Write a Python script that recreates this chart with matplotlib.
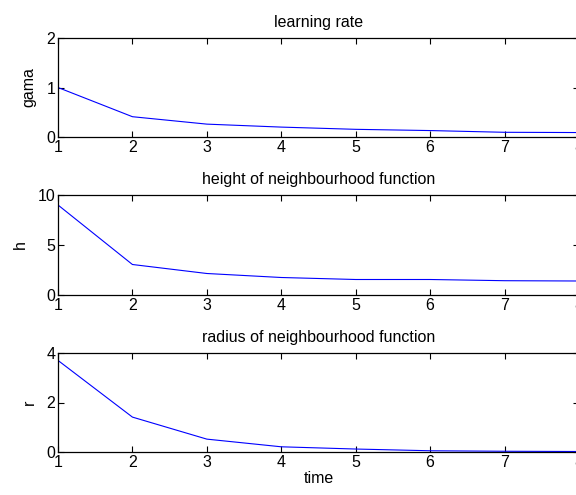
import matplotlib.pyplot as plt

plt.rcParams['font.family'] = ['Liberation Sans', 'DejaVu Sans']
plt.rcParams['font.size'] = 11.5

# values per time step
time = [1, 2, 3, 4, 5, 6, 7, 8]
gama = [1.0, 0.41, 0.26, 0.20, 0.155, 0.13, 0.095, 0.09]
h = [9.0, 3.05, 2.15, 1.75, 1.55, 1.55, 1.43, 1.40]
r = [3.7, 1.41, 0.52, 0.21, 0.12, 0.05, 0.03, 0.02]

W, H = 576, 495
fig = plt.figure(figsize=(W / 100, H / 100), dpi=100)

# axes boxes in pixels: left, top, right, bottom (right edge runs past the figure)
boxes = [(58, 38, 579, 137), (58, 195, 579, 295), (58, 353, 579, 452)]
series = [gama, h, r]
ylims = [(0, 2), (0, 10), (0, 4)]
yticks = [[0, 1, 2], [0, 5, 10], [0, 2, 4]]
ylabels = ['gama', 'h', 'r']
titles = ['learning rate', 'height of neighbourhood function',
          'radius of neighbourhood function']

for (l, t, rr, b), y, yl, yt, lab, ttl in zip(boxes, series, ylims, yticks, ylabels, titles):
    ax = fig.add_axes([l / W, 1 - b / H, (rr - l) / W, (b - t) / H])
    ax.plot(time, y, color='blue', lw=0.8)
    ax.set_xlim(1, 8)
    ax.set_ylim(*yl)
    ax.set_xticks(time)
    ax.set_yticks(yt)
    ax.tick_params(direction='in', top=True, right=True, length=4, width=0.8, pad=2)
    for s in ax.spines.values():
        s.set_linewidth(0.9)
    ax.set_ylabel(lab, labelpad=7)
    ax.set_title(ttl, fontsize=11.5, pad=8)
    last = ax

last.set_xlabel('time', labelpad=1)

fig.savefig('out.png', dpi=100)
